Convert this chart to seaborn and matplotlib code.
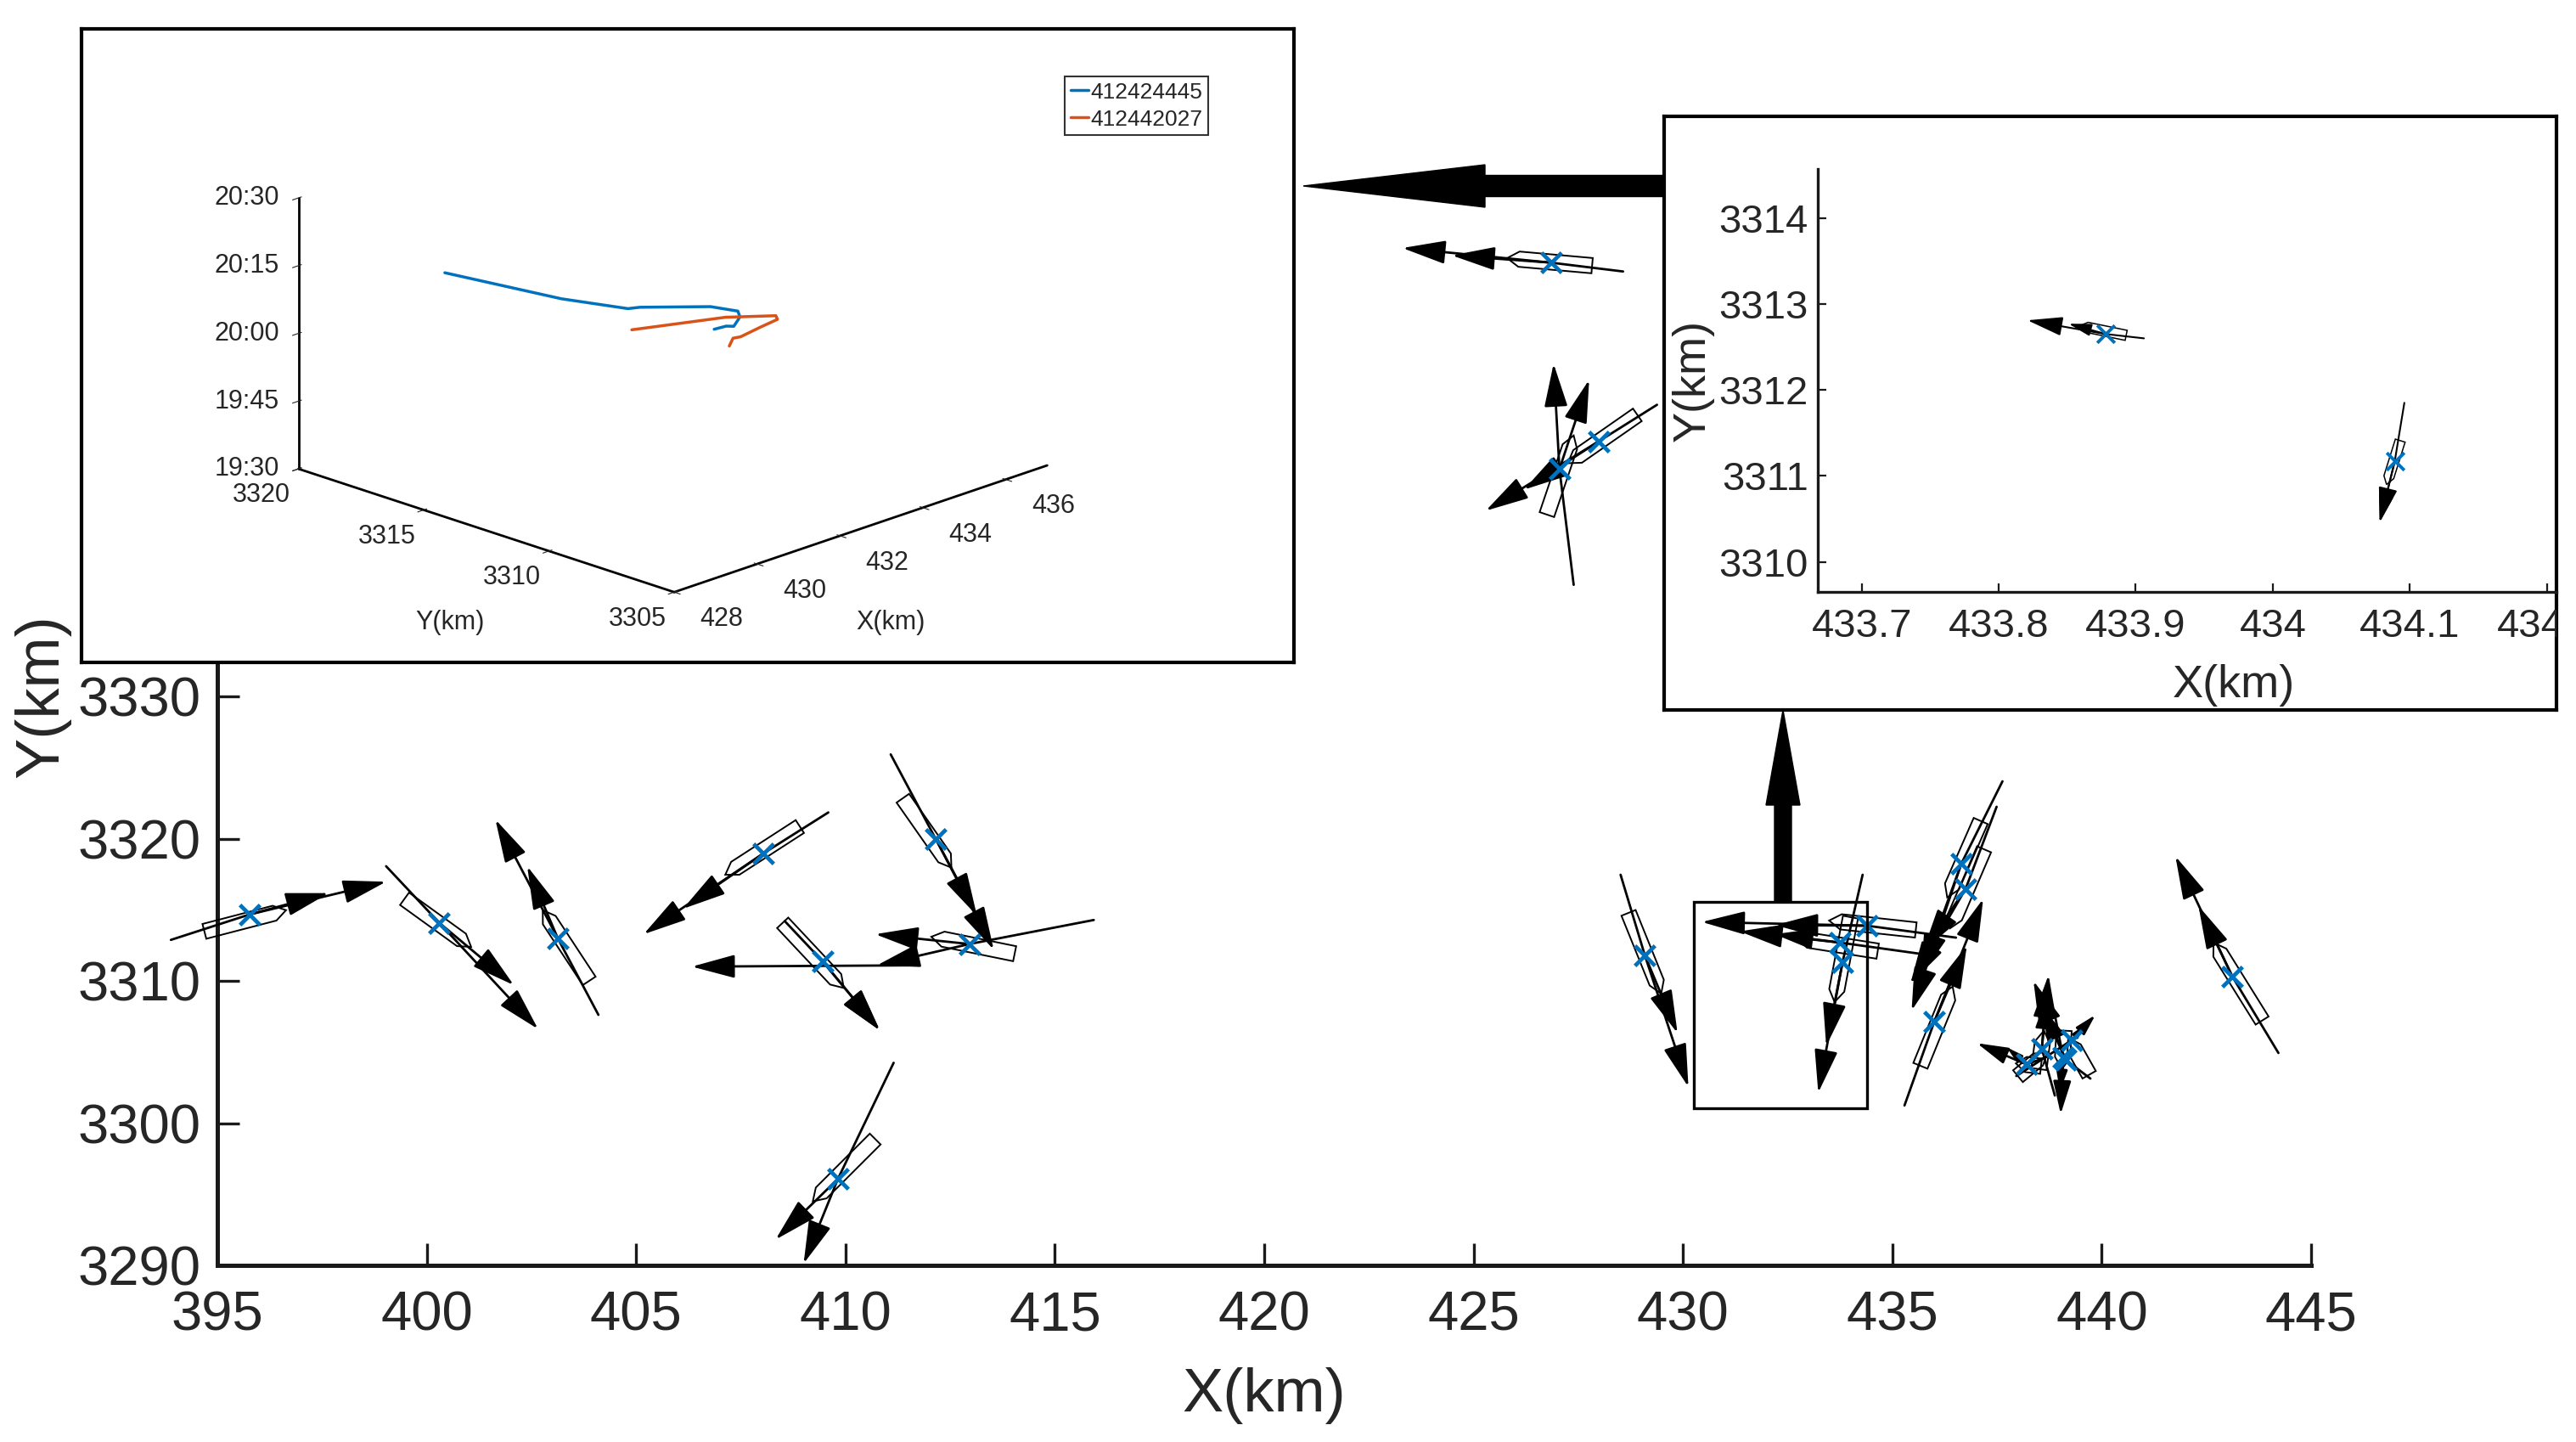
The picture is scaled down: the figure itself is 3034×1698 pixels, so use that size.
import numpy as np
import pandas as pd
import seaborn as sns
import matplotlib.pyplot as plt
from matplotlib.patches import Polygon, FancyArrow, Rectangle
from matplotlib.transforms import IdentityTransform

# ---------------- main map: ship snapshot (X, Y in km) ----------------
ship_x = [395.77, 400.30, 403.13, 408.04, 412.16, 412.96, 409.45, 409.82,
          426.85, 427.05, 427.99, 429.09, 433.81, 434.39, 433.75, 436.65,
          436.75, 436.00, 438.20, 438.57, 439.08, 439.14, 439.28, 443.12]
ship_y = [3314.67, 3314.08, 3312.99, 3318.96, 3319.95, 3312.59, 3311.39, 3296.08,
          3360.49, 3345.98, 3347.93, 3311.79, 3311.30, 3313.88, 3312.69, 3318.26,
          3316.47, 3307.12, 3304.13, 3305.22, 3304.63, 3304.45, 3305.82, 3310.30]
# start of the course line behind each ship
tail_x = [393.89, 399.03, 404.10, 409.59, 411.08, 415.93, 408.55, 411.15,
          428.57, 427.39, 429.38, 428.51, 434.29, 436.52, 435.94, 437.63,
          437.49, 435.29, 438.67, 438.88, 438.88, 439.73, 437.96, 444.22]
tail_y = [3312.88, 3318.06, 3307.61, 3321.84, 3325.92, 3314.28, 3314.20, 3304.24,
          3359.87, 3337.84, 3350.50, 3317.46, 3317.46, 3313.04, 3311.79, 3324.03,
          3322.24, 3301.24, 3304.63, 3301.94, 3307.61, 3303.13, 3303.31, 3304.93]
# predicted positions (two look-ahead steps)
pred1_x = [397.66, 402.08, 402.40, 406.12, 413.14, 410.75, 410.82, 408.33,
           424.48, 426.91, 426.20, 429.87, 433.42, 432.20, 432.19, 435.67,
           435.73, 436.78, 437.73, 438.67, 439.00, 438.57, 439.59, 442.31]
pred1_y = [3316.17, 3309.70, 3318.06, 3315.07, 3314.58, 3311.09, 3306.52, 3291.81,
           3361.00, 3353.39, 3344.53, 3306.32, 3305.42, 3313.92, 3313.28, 3310.30,
           3312.09, 3312.49, 3305.33, 3308.81, 3302.24, 3308.21, 3306.90, 3315.27]
pred2_x = [399.03, 402.66, 401.64, 405.18, 413.54, 410.71, 410.82, 409.00,
           423.30, 427.76, 425.29, 430.13, 433.23, 430.45, 431.35, 435.46,
           435.43, 437.17, 437.02, 438.73, 439.02, 438.37, 439.85, 441.76]
pred2_y = [3316.97, 3306.61, 3321.34, 3313.28, 3312.19, 3313.28, 3306.52, 3290.12,
           3361.52, 3352.26, 3343.05, 3302.54, 3302.14, 3314.14, 3313.48, 3307.91,
           3309.80, 3315.77, 3305.62, 3310.42, 3300.63, 3310.00, 3307.61, 3318.76]
# hull outline: stern and bow points
stern_x = [394.69, 399.47, 403.88, 408.91, 411.37, 414.04, 408.50, 410.71,
           427.83, 426.75, 428.91, 428.70, 434.00, 435.56, 434.65, 437.11,
           437.19, 435.67, 438.55, 438.50, 439.10, 439.70, 438.00, 443.83]
stern_y = [3313.48, 3315.77, 3310.00, 3320.85, 3322.84, 3311.91, 3314.08, 3298.88,
           3360.28, 3342.78, 3349.79, 3314.78, 3314.48, 3313.58, 3312.09, 3321.24,
           3319.25, 3304.03, 3304.00, 3303.80, 3306.50, 3303.40, 3303.30, 3307.21]
bow_x = [396.64, 401.06, 402.77, 407.13, 412.53, 412.05, 409.96, 409.22,
         425.80, 427.39, 427.25, 429.48, 433.62, 433.49, 432.71, 436.31,
         436.38, 436.44, 437.95, 438.62, 439.05, 439.20, 438.70, 442.67]
bow_y = [3314.97, 3312.39, 3314.97, 3317.46, 3317.96, 3313.10, 3309.50, 3294.50,
         3360.81, 3348.34, 3346.39, 3309.10, 3308.51, 3314.24, 3312.99, 3315.87,
         3313.70, 3309.60, 3304.20, 3306.50, 3303.80, 3306.00, 3305.00, 3312.69]
# one extra vector (west-bound) crossing ship 7
extra_x0, extra_y0, extra_x1, extra_y1 = [411.50], [3311.09], [406.33], [3311.00]

# zoomed region drawn on the map
zoom_x = [430.26, 434.40]
zoom_y = [3301.05, 3315.55]

# ---------------- right inset: two ships in the zoomed region ----------------
zs_x = [433.878, 434.089]
zs_y = [3312.650, 3311.170]
zs_tail_x = [433.906, 434.096]
zs_tail_y = [3312.600, 3311.850]
zs_pred1_x = [433.851, 434.078]
zs_pred1_y = [3312.770, 3310.460]
zs_pred2_x = [433.821, 434.078]
zs_pred2_y = [3312.810, 3310.460]
zs_stern_x = [433.893, 434.093]
zs_stern_y = [3312.635, 3311.410]
zs_bow_x = [433.859, 434.083]
zs_bow_y = [3312.746, 3310.900]
zs_xticks = [433.7, 433.8, 433.9, 434.0, 434.1, 434.2]
zs_xticklabels = ['433.7', '433.8', '433.9', '434', '434.1', '434.2']

# ---------------- left inset: space-time tracks ----------------
mmsi = ['412424445', '412442027']
track1_x = [433.86, 433.97, 433.97, 434.12, 434.16, 433.59, 432.16, 431.87, 430.72, 428.63]
track1_y = [3313.10, 3312.80, 3312.50, 3312.50, 3312.65, 3312.80, 3313.25, 3313.25, 3314.00, 3315.20]
track1_t = ['19:55:12', '19:56:06', '19:56:36', '19:58:12', '19:59:06',
            '20:01:36', '20:05:06', '20:05:42', '20:10:06', '20:20:12']
track2_x = [433.50, 433.50, 433.59, 433.98, 434.30, 434.20, 433.32, 431.51]
track2_y = [3311.90, 3311.75, 3311.60, 3311.45, 3311.30, 3311.20, 3311.75, 3312.50]
track2_t = ['19:54:48', '19:56:48', '19:57:06', '19:58:18', '19:59:18',
            '20:00:36', '20:02:00', '20:03:30']
time_ticks = ['19:30', '19:45', '20:00', '20:15', '20:30']

BLUE = '#0072BD'
ORANGE = '#D95319'
TXT = '#262626'

sns.set_style('ticks')
plt.rcParams['font.family'] = ['Liberation Sans', 'DejaVu Sans']

W, H = 3034, 1698
fig = plt.figure(figsize=(W / 100, H / 100), dpi=100)


def rect(l, t, r, b):
    # pixel box (from top-left) -> figure fraction
    return [l / W, 1 - b / H, (r - l) / W, (b - t) / H]


def draw_hull(a, sx, sy, bx, by, half_w, nose, lw):
    p0 = a.transData.transform((sx, sy))
    p1 = a.transData.transform((bx, by))
    d = p1 - p0
    u = d / np.hypot(*d)
    n = np.array([-u[1], u[0]])
    nose = min(nose, 0.4 * np.hypot(*d))
    pts = [p0 + n * half_w, p1 - u * nose + n * half_w, p1,
           p1 - u * nose - n * half_w, p0 - n * half_w]
    a.add_patch(Polygon(a.transData.inverted().transform(pts), closed=True,
                        fill=False, ec='k', lw=lw, clip_on=False, zorder=3))


def draw_vec(a, x0, y0, x1, y1, lw, head):
    p0 = a.transData.transform((x0, y0))
    p1 = a.transData.transform((x1, y1))
    length = np.hypot(*(p1 - p0))
    hl = min(head, 0.5 * length) / 1.389 / 10
    a.annotate('', xy=(x1, y1), xytext=(x0, y0), annotation_clip=False,
               arrowprops=dict(arrowstyle=f'-|>,head_length={hl:.3f},head_width={hl * 0.27:.3f}',
                               color='k', lw=lw, shrinkA=0, shrinkB=0, mutation_scale=10),
               zorder=4)


# ---------------- main map ----------------
ax = fig.add_axes(rect(256, 150, 2722, 1490))
ax.set_xlim(395, 445)
ax.set_ylim(3290, 3370)

for i in range(len(ship_x)):
    ax.plot([tail_x[i], ship_x[i]], [tail_y[i], ship_y[i]], color='k', lw=2.0,
            clip_on=False, zorder=3)
    draw_hull(ax, stern_x[i], stern_y[i], bow_x[i], bow_y[i], 9, 14, 1.4)
    draw_vec(ax, ship_x[i], ship_y[i], pred2_x[i], pred2_y[i], 2.0, 44)
    draw_vec(ax, ship_x[i], ship_y[i], pred1_x[i], pred1_y[i], 2.0, 44)
for i in range(len(extra_x0)):
    draw_vec(ax, extra_x0[i], extra_y0[i], extra_x1[i], extra_y1[i], 2.0, 44)

sns.scatterplot(x=ship_x, y=ship_y, marker='x', s=290, color=BLUE, linewidth=3.4,
                ax=ax, zorder=5, clip_on=False)
ax.add_patch(Rectangle((zoom_x[0], zoom_y[0]), zoom_x[1] - zoom_x[0], zoom_y[1] - zoom_y[0],
                       fill=False, ec='k', lw=2.4, zorder=6))

ax.set_xticks(np.arange(395, 446, 5))
ax.set_yticks(np.arange(3290, 3371, 10))
sns.despine(ax=ax)
for s in ('left', 'bottom'):
    ax.spines[s].set_linewidth(3.6)
    ax.spines[s].set_color('#1a1a1a')
ax.tick_params(direction='in', length=19, width=2.4, labelsize=47, colors='#1a1a1a',
               labelcolor=TXT)
ax.tick_params(axis='x', pad=21)
ax.tick_params(axis='y', pad=14)
ax.set_xlabel('X(km)', fontsize=52, color=TXT, labelpad=22)
ax.set_ylabel('Y(km)', fontsize=52, color=TXT, labelpad=6)

# ---------------- inset frames ----------------
frame_r = fig.add_axes(rect(1960, 137, 3011, 836), zorder=3)
frame_l = fig.add_axes(rect(96, 34, 1524, 780), zorder=3)
for fr_ax in (frame_r, frame_l):
    fr_ax.set_facecolor('white')
    fr_ax.set_xticks([])
    fr_ax.set_yticks([])
    for s in fr_ax.spines.values():
        s.set_visible(True)
        s.set_color('k')
        s.set_linewidth(3)

# ---------------- right inset ----------------
ax_in = fig.add_axes(rect(2141, 199, 3011, 697), zorder=4)
ax_in.patch.set_alpha(0)
ax_in.set_xlim(433.668, 434.207)
ax_in.set_ylim(3309.65, 3314.57)
for i in range(len(zs_x)):
    ax_in.plot([zs_tail_x[i], zs_x[i]], [zs_tail_y[i], zs_y[i]], color='k', lw=1.5, zorder=3)
    draw_hull(ax_in, zs_stern_x[i], zs_stern_y[i], zs_bow_x[i], zs_bow_y[i], 6, 9, 1.1)
    draw_vec(ax_in, zs_x[i], zs_y[i], zs_pred2_x[i], zs_pred2_y[i], 1.5, 36)
    draw_vec(ax_in, zs_x[i], zs_y[i], zs_pred1_x[i], zs_pred1_y[i], 1.5, 28)
sns.scatterplot(x=zs_x, y=zs_y, marker='x', s=220, color=BLUE, linewidth=2.8,
                ax=ax_in, zorder=5)
ax_in.set_xticks(zs_xticks)
ax_in.set_xticklabels(zs_xticklabels)
ax_in.set_yticks(np.arange(3310, 3315, 1))
sns.despine(ax=ax_in)
for s in ('left', 'bottom'):
    ax_in.spines[s].set_linewidth(2.4)
    ax_in.spines[s].set_color('#1a1a1a')
ax_in.tick_params(direction='in', length=7, width=1.6, labelsize=34, colors='#1a1a1a',
                  labelcolor=TXT)
ax_in.tick_params(axis='x', pad=14)
ax_in.tick_params(axis='y', pad=8)
ax_in.set_xlabel('X(km)', fontsize=39, color=TXT)
ax_in.set_ylabel('Y(km)', fontsize=39, color=TXT)
ax_in.xaxis.set_label_coords(0.563, -0.17)
ax_in.yaxis.set_label_coords(-0.14, 0.5)
for tk in ax_in.xaxis.get_major_ticks():
    tk.label1.set_clip_box(frame_r.bbox)
    tk.label1.set_clip_on(True)

# ---------------- left inset (3-D) ----------------
ax3 = fig.add_axes(rect(433, 50, 1133, 750), projection='3d', zorder=4)
ax3.patch.set_alpha(0)
ax3.set_proj_type('ortho')
ax3.view_init(elev=19.5, azim=-135.5)
ax3.set_box_aspect((1, 0.99, 0.54), zoom=1.31)
ax3.set_xlim(428, 437)
ax3.set_ylim(3305, 3320)
ax3.set_zlim(30, 90)
t1 = pd.to_timedelta(track1_t).total_seconds() / 60 - 19 * 60
t2 = pd.to_timedelta(track2_t).total_seconds() / 60 - 19 * 60
ax3.plot(track1_x, track1_y, t1, color=BLUE, lw=2.5, label=mmsi[0])
ax3.plot(track2_x, track2_y, t2, color=ORANGE, lw=2.5, label=mmsi[1])
ax3.set_xticks([428, 430, 432, 434, 436])
ax3.set_yticks([3305, 3310, 3315, 3320])
ax3.set_zticks([30, 45, 60, 75, 90])
ax3.set_zticklabels(time_ticks)
ax3.grid(False)
for axis in (ax3.xaxis, ax3.yaxis, ax3.zaxis):
    axis.set_pane_color((1, 1, 1, 0))
    axis.pane.set_edgecolor((1, 1, 1, 0))
    axis.line.set_color('k')
    axis.line.set_linewidth(2)
ax3.tick_params(labelsize=22, colors=TXT)
ax3.tick_params(axis='x', pad=10)
ax3.tick_params(axis='y', pad=18)
ax3.tick_params(axis='z', pad=10)
for lbl in ax3.get_xticklabels():
    lbl.set_horizontalalignment('left')
    lbl.set_verticalalignment('center')
for lbl in ax3.get_yticklabels():
    lbl.set_verticalalignment('bottom')
for lbl in ax3.get_zticklabels():
    lbl.set_verticalalignment('center')
ax3.text2D(530 / W, 1 - 733 / H, 'Y(km)', transform=fig.transFigure, fontsize=22,
           color=TXT, ha='center', va='center')
ax3.text2D(1049 / W, 1 - 733 / H, 'X(km)', transform=fig.transFigure, fontsize=22,
           color=TXT, ha='center', va='center')
leg = ax3.legend(loc='upper left', bbox_to_anchor=(1254 / W, 1 - 90 / H),
                 bbox_transform=fig.transFigure, fontsize=19, frameon=True,
                 fancybox=False, edgecolor='k', borderpad=0.25, labelspacing=0.3,
                 handlelength=0.8, handletextpad=0.1, borderaxespad=0)
leg.get_frame().set_linewidth(1.5)

# ---------------- linking arrows ----------------
px = IdentityTransform()
fig.add_artist(FancyArrow(1960, H - 219, -(1960 - 1535), 0, width=25, head_width=50,
                          head_length=214, length_includes_head=True, color='k',
                          transform=px, zorder=6))
fig.add_artist(FancyArrow(2100, H - 1062, 0, 1062 - 836, width=20, head_width=40,
                          head_length=112, length_includes_head=True, color='k',
                          transform=px, zorder=6))

fig.savefig('out.png', dpi=100, facecolor='white')
